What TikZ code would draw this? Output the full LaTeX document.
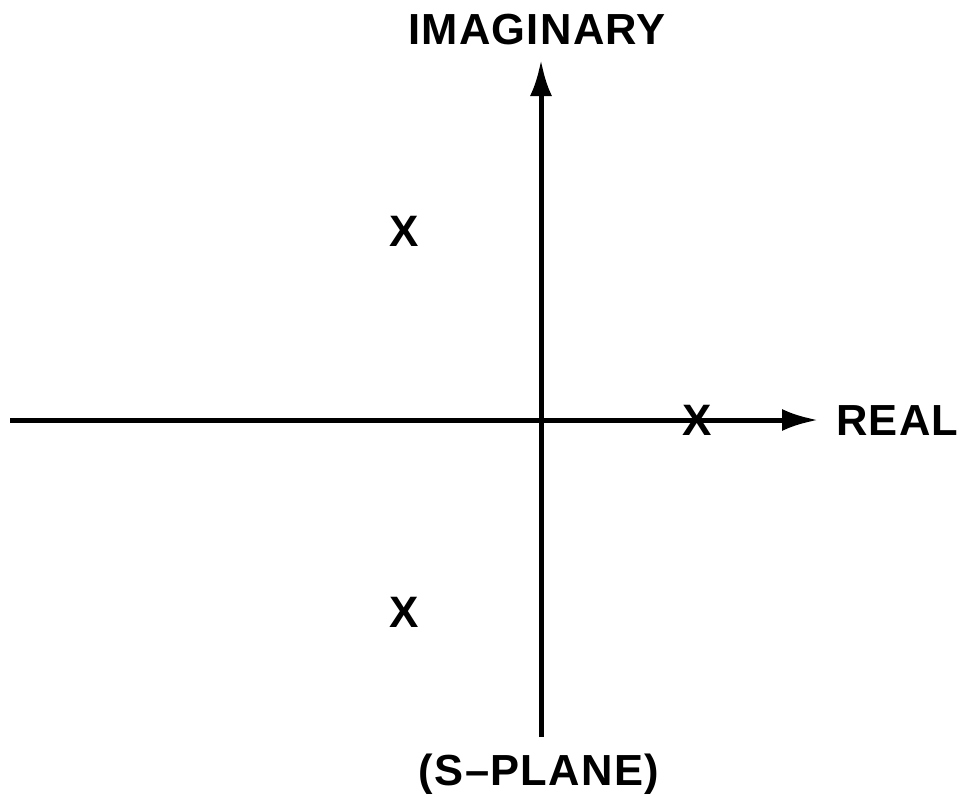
\documentclass[tikz,border=0pt]{standalone}
\usepackage{fontspec}
\setmainfont{Liberation Sans}[LetterSpace=3]
\usetikzlibrary{arrows.meta}
\begin{document}
\begin{tikzpicture}[x=1pt,y=-1pt,
  axis/.style={line width=5pt,-{Latex[length=36pt,width=22pt]}},
  lbl/.style={font=\fontsize{43.5}{43.5}\selectfont\bfseries,inner sep=0pt},
  pole/.style={font=\fontsize{44}{44}\selectfont\bfseries,inner sep=0pt}]
\useasboundingbox (0,0) rectangle (963,796);
\coordinate (L) at (10,420);
\coordinate (R) at (818,420);
\coordinate (B) at (541,737);
\coordinate (T) at (541,60);
\draw[axis] (L) -- (R);
\draw[axis] (B) -- (T);
\node[lbl,anchor=base] (im) at (537,44) {IMAGINARY};
\node[lbl,anchor=base west] (re) at (836,435) {REAL};
\node[lbl,anchor=base] (sp) at (539,785) {(S–PLANE)};
\node[pole] (p1) at (404,231) {X};
\node[pole] (p2) at (404,612) {X};
\node[pole] (p3) at (697,420) {X};
\end{tikzpicture}
\end{document}
